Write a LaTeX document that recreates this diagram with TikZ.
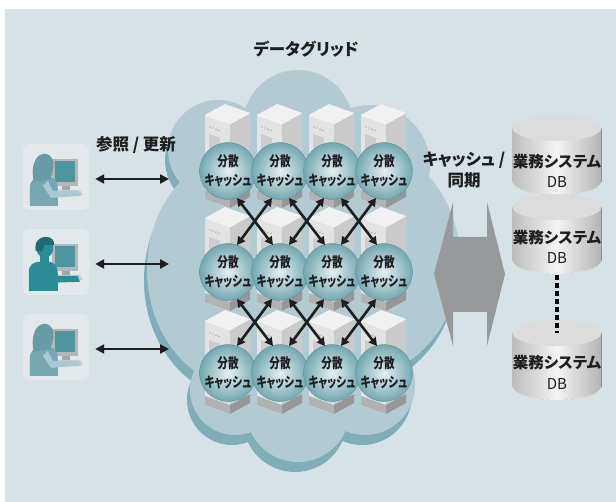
\documentclass[tikz,border=0pt]{standalone}
\usepackage{fontspec}
\usetikzlibrary{arrows.meta,calc}
\newfontfamily\jp[RawFeature={+palt}]{Noto Sans CJK JP}
\newfontfamily\jpc[FakeStretch=0.76,RawFeature={+palt}]{Noto Sans CJK JP}

\definecolor{panelbg}{HTML}{D6E2E5}
\definecolor{cloudlt}{HTML}{B2CBD3}
\definecolor{clouddk}{HTML}{7FADB9}
\definecolor{iconbg}{HTML}{E3E8EA}
\definecolor{monframe}{HTML}{B4B7B9}
\definecolor{monscreen}{HTML}{4E969F}
\definecolor{monstand}{HTML}{A2A5A7}
\definecolor{keyb}{HTML}{C9CCCE}
\definecolor{wbody}{HTML}{76A7B2}
\definecolor{whair}{HTML}{689BA6}
\definecolor{warm}{HTML}{A8C9CF}
\definecolor{mbody}{HTML}{2B8C97}
\definecolor{mhair}{HTML}{1D6B74}
\definecolor{srvtop}{HTML}{F1F1F1}
\definecolor{srvfront}{HTML}{E3E3E3}
\definecolor{srvside}{HTML}{CACACA}
\definecolor{srvslot}{HTML}{CDCDCD}
\definecolor{srvplf}{HTML}{B2B2B2}
\definecolor{srvpls}{HTML}{979797}
\definecolor{ballin}{HTML}{E4F0F1}
\definecolor{ballout}{HTML}{74A8B1}
\definecolor{ballrim}{HTML}{5E97A1}
\definecolor{syncgray}{HTML}{98999B}
\definecolor{dbedge}{HTML}{BDBDBD}
\definecolor{dblight}{HTML}{F4F4F4}
\definecolor{dbtop}{HTML}{DCDCDC}
\definecolor{ink}{HTML}{1E1E1E}

\tikzset{
  bigtext/.style={font=\jp\bfseries\fontsize{16.5}{21}\selectfont, text=ink, align=center, inner sep=0pt},
  cache/.style={circle, minimum size=50pt, inner sep=0pt, inner color=ballin, outer color=ballout,
    draw=ballrim, line width=0.5pt, align=center, text=ink,
    font=\jpc\bfseries\fontsize{14}{19}\selectfont},
  iconbox/.style={rounded corners=6pt, fill=iconbg, minimum width=66pt, minimum height=66pt, inner sep=0pt},
  dblabel/.style={align=center, text=ink, inner sep=0pt},
  dbname/.style={font=\jp\bfseries\fontsize{15.5}{20}\selectfont},
  biarrow/.style={line width=2.6pt, draw=ink, {Triangle[length=8pt,width=8.5pt]}-{Triangle[length=8pt,width=8.5pt]}},
  hbiarrow/.style={line width=2.6pt, draw=ink, {Triangle[length=9pt,width=9pt]}-{Triangle[length=9pt,width=9pt]}},
  linkdash/.style={line width=3.2pt, draw=black, dash pattern=on 5pt off 3pt},
  cloudpic/.pic={
    \path[pic actions]
      (218,150) circle[radius=50pt]
      (298,125) circle[radius=55pt]
      (370,165) circle[radius=60pt]
      (250,270) ellipse[x radius=103pt, y radius=120pt]
      (350,260) ellipse[x radius=110pt, y radius=120pt]
      (235,390) circle[radius=45pt]
      (298,410) circle[radius=52pt]
      (365,385) circle[radius=50pt];
  },
  screen/.pic={
    \fill[monframe] (29,15) rectangle (55,42);
    \fill[monscreen] (32,17) rectangle (52,38);
    \fill[monstand] (39,42) rectangle (47,46);
    \fill[keyb] (36,46) -- (57,46) -- (60,51) -- (38,51) -- cycle;
  },
  woman/.pic={
    \pic {screen};
    \fill[wbody] (7,62) -- (7,45) .. controls (7,37) and (11,34) .. (18,33) -- (27,33)
      .. controls (32,34) and (35,38) .. (35,45) -- (35,62) -- cycle;
    \fill[whair] (11,38) .. controls (8,26) and (11,11) .. (21,10)
      .. controls (30,10) and (32,18) .. (30,26) -- (28,35) -- cycle;
    \fill[warm] (25,37) -- (30,47) -- (55,47) -- (58,52) -- (28,54) -- (20,42) -- cycle;
  },
  man/.pic={
    \pic {screen};
    \fill[mbody] (6,62) -- (6,44) .. controls (6,36) and (10,33) .. (18,33) -- (27,33)
      .. controls (32,34) and (35,38) .. (35,45) -- (35,62) -- cycle;
    \fill[mbody] (22,19) ellipse[x radius=8.5pt, y radius=10pt];
    \fill[mbody] (17,27) rectangle (26,35);
    \fill[mhair] (13,22) .. controls (11,13) and (17,8) .. (23,8)
      .. controls (29,8) and (32,12) .. (31,16) -- (22,16) -- (19,23) -- cycle;
    \fill[mbody] (24,37) -- (30,47) -- (55,47) -- (57,53) -- (27,54) -- (19,42) -- cycle;
  },
}

% isometric server tower: #1 = centre x, #2 = top y
\newcommand\srvtower[2]{%
  \begin{scope}[shift={(#1,#2)}]
    \fill[srvtop] (-3,0) -- (22,9) -- (2,20) -- (-23,11) -- cycle;
    \fill[srvfront] (-23,11) -- (2,20) -- (2,104) -- (-23,95) -- cycle;
    \fill[srvside] (2,20) -- (22,9) -- (22,93) -- (2,104) -- cycle;
    \fill[srvplf] (-23,86) -- (2,95) -- (2,104) -- (-23,95) -- cycle;
    \fill[srvpls] (2,95) -- (22,84) -- (22,93) -- (2,104) -- cycle;
    \fill[srvslot] (-19,30) -- (-8,34) -- (-8,72) -- (-19,68) -- cycle;
    \foreach \d in {0,1,2,3} \fill[gray] (-18+3*\d,23+1.1*\d) circle[radius=0.6pt];
    \draw[white, line width=0.4pt] (-23,11) -- (2,20) -- (22,9);
  \end{scope}}

% database cylinder: #1 = centre x, #2 = top y
\newcommand\dbcyl[2]{%
  \fill[left color=dbedge, right color=dbedge!95!black, middle color=dblight]
    ($(#1,#2)+(-44.5,13)$) -- ($(#1,#2)+(-44.5,67)$)
    arc[start angle=180, end angle=360, x radius=44.5pt, y radius=13pt]
    -- ($(#1,#2)+(44.5,13)$) -- cycle;
  \fill[dbtop] ($(#1,#2)+(0,13)$) ellipse[x radius=44.5pt, y radius=13pt];
  \draw[white!85!gray, line width=0.6pt] ($(#1,#2)+(-44.5,67)$)
    arc[start angle=180, end angle=360, x radius=44.5pt, y radius=13pt];}

\begin{document}
\begin{tikzpicture}[x=1pt, y=-1pt]
  \useasboundingbox (0,0) rectangle (616,502);
  \fill[white] (0,0) rectangle (616,502);
  \fill[panelbg] (5,9) rectangle (616,502);

  % grid cloud with its shadow
  \pic[fill=clouddk] at (-3,10) {cloudpic};
  \pic[fill=cloudlt] at (0,0) {cloudpic};

  \node[bigtext] (title) at (306,49) {データグリッド};

  % server rows with distributed caches
  \foreach \r/\yt/\yb in {1/104/171, 2/207/272, 3/310/373} {
    \foreach \x in {228,280,332,384} { \srvtower{\x}{\yt} }
    \foreach \c/\x in {1/228,2/280,3/332,4/384} {
      \node[cache] (b\r\c) at (\x,\yb) {分散\\キャッシュ};
    }
  }

  % replication between neighbouring caches
  \foreach \r/\s in {1/2,2/3} {
    \foreach \c/\d in {1/2,2/3,3/4} {
      \draw[biarrow] ($(b\r\c)+(9,27)$) -- ($(b\s\d)+(-7,-27)$);
      \draw[biarrow] ($(b\r\d)+(-8,27)$) -- ($(b\s\c)+(9,-27)$);
    }
  }

  % clients
  \node[iconbox] (user1) at (56,177) {};
  \node[iconbox] (user2) at (56,262) {};
  \node[iconbox] (user3) at (56,347) {};
  \pic at (user1.north west) {woman};
  \pic at (user2.north west) {man};
  \pic at (user3.north west) {woman};

  \node[bigtext] (access) at (136,145) {参照 / 更新};
  \coordinate (g1) at (169,179);
  \coordinate (g2) at (169,264);
  \coordinate (g3) at (169,349);
  \draw[hbiarrow] ($(user1.east)+(6,2)$) -- (g1);
  \draw[hbiarrow] ($(user2.east)+(6,2)$) -- (g2);
  \draw[hbiarrow] ($(user3.east)+(6,2)$) -- (g3);

  % cache synchronisation
  \fill[syncgray] (453,202) -- (453,237) -- (487,237) -- (487,202) -- (505,274)
    -- (487,346) -- (487,312) -- (453,312) -- (453,346) -- (434,274) -- cycle;
  \node[bigtext] (sync) at (464,170) {キャッシュ /\\同期};

  % business system databases
  \dbcyl{557}{115}
  \dbcyl{557}{194}
  \dbcyl{557}{320}
  \node[dblabel, dbname] (db1n) at (557,162) {業務システム};
  \node[dblabel, font=\jp\fontsize{15}{19}\selectfont] (db1) at (557,182) {DB};
  \node[dblabel, dbname] (db2n) at (557,238) {業務システム};
  \node[dblabel, font=\jp\fontsize{15}{19}\selectfont] (db2) at (557,258) {DB};
  \node[dblabel, dbname] (db3n) at (557,363) {業務システム};
  \node[dblabel, font=\jp\fontsize{15}{19}\selectfont] (db3) at (557,384) {DB};
  \coordinate (db2b) at (557,275);
  \coordinate (db3t) at (557,333);
  \draw[linkdash] (db2b) -- (db3t);
\end{tikzpicture}
\end{document}
